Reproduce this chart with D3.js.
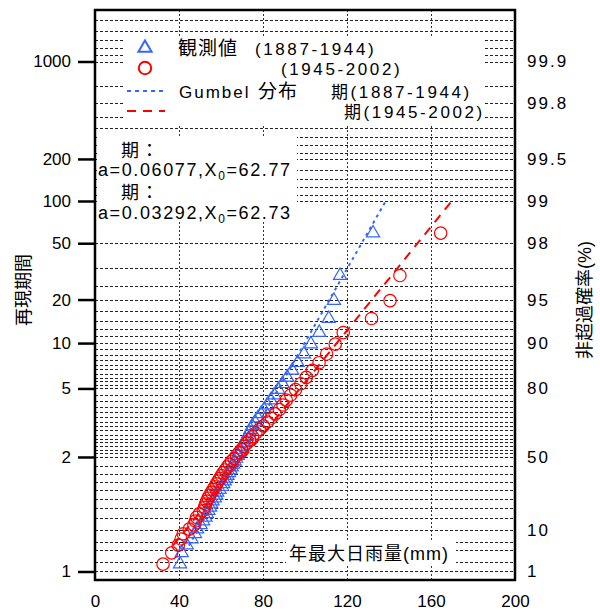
<!DOCTYPE html>
<html>
<head>
<meta charset="utf-8">
<script src="https://cdn.jsdelivr.net/npm/d3@7"></script>
<style>
  body { margin: 0; background: #fff; }
  text { font-family: "Liberation Sans", Arial, "Noto Sans CJK JP", sans-serif; }
</style>
</head>
<body>
<div id="main"><svg width="600" height="612"></svg></div>
<script>
// Annual max daily rainfall (mm), sorted ascending
var earlyRain = [40.5, 41.3, 43.7, 46.0, 47.6, 48.6, 50.3, 51.5, 52.6, 53.3,
  54.0, 54.8, 55.4, 56.0, 57.1, 57.7, 58.2, 59.3, 60.5, 61.1,
  61.8, 62.5, 63.1, 63.8, 64.5, 65.1, 65.8, 66.5, 67.2, 67.9,
  68.6, 69.3, 70.0, 70.8, 71.6, 72.4, 73.2, 74.0, 74.9, 76.2,
  77.6, 79.0, 80.5, 82.0, 83.7, 85.4, 87.3, 89.3, 91.5, 93.9,
  96.5, 99.5, 102.8, 106.8, 111.3, 113.8, 116.7, 132.4];
var lateRain = [32.4, 36.5, 39.7, 41.0, 42.0, 44.9, 47.1, 47.8, 48.4, 49.7,
  51.6, 52.2, 52.6, 53.2, 53.8, 54.6, 55.4, 56.2, 57.0, 57.8,
  58.6, 59.4, 60.2, 61.0, 62.0, 63.0, 64.0, 65.0, 66.2, 67.4,
  68.6, 69.8, 71.0, 72.3, 73.6, 75.0, 76.6, 78.2, 80.2, 82.1,
  84.0, 85.8, 87.8, 89.5, 91.1, 93.2, 95.5, 98.0, 100.6, 103.5,
  106.7, 110.3, 114.4, 118.2, 131.7, 140.5, 145.2, 164.6];

// Gumbel fits (as drawn)
var fitA = [0.06077, 0.04292];
var fitX0 = [62.77, 62.73];
var fitRange = [0.05, 0.99];
var fitLabels = ["a=0.06077,X", "a=0.03292,X"];
var fitX0Labels = ["=62.77", "=62.73"];

// axis ticks
var xTicks = [0, 40, 80, 120, 160, 200];
var leftTickProbs = [0.01, 0.5, 0.8, 0.9, 0.95, 0.98, 0.99, 0.995, 0.999];
var leftTickLabels = ["1", "2", "5", "10", "20", "50", "100", "200", "1000"];
var rightTickProbs = [0.01, 0.1, 0.5, 0.8, 0.9, 0.95, 0.98, 0.99, 0.995, 0.998, 0.999];
var rightTickLabels = ["1", "10", "50", "80", "90", "95", "98", "99", "99.5", "99.8", "99.9"];
var gridProbs = [0.01, 0.02, 0.04, 0.06, 0.1, 0.15, 0.2, 0.25, 0.3, 0.35, 0.4, 0.45, 0.5,
  0.52, 0.54, 0.56, 0.58, 0.6, 0.62, 0.64, 0.66, 0.68, 0.7, 0.72, 0.74, 0.76, 0.78, 0.8,
  0.81, 0.82, 0.83, 0.84, 0.85, 0.86, 0.87, 0.88, 0.89, 0.9, 0.91, 0.92, 0.93, 0.94, 0.95,
  0.96, 0.97, 0.98, 0.99, 0.991, 0.992, 0.993, 0.994, 0.995, 0.9955, 0.996, 0.9965, 0.997,
  0.9975, 0.998, 0.9985, 0.999, 0.9991, 0.9992, 0.9993, 0.9994, 0.9995];
var xGrid = [40, 80, 120, 160];

var svg = d3.select("#main").select("svg");
var margin = {left: 95, right: 515, top: 10, bottom: 580};

var gumbel = function(p) { return -Math.log(-Math.log(p)); };

var x = d3.scaleLinear().domain([0, 200]).range([margin.left, margin.right]);
var y = d3.scaleLinear().domain([-1.668, 7.759]).range([margin.bottom, margin.top]);
var yp = function(p) { return y(gumbel(p)); };

// plotting position i/(n+1)
var pos = function(arr) {
  return arr.map(function(v, i) { return {v: v, p: (i + 1) / (arr.length + 1)}; });
};

// grid
svg.append("g").selectAll("line").data(gridProbs).enter().append("line")
  .attr("x1", margin.left).attr("x2", margin.right)
  .attr("y1", function(d) { return Math.round(yp(d)) + 0.5; })
  .attr("y2", function(d) { return Math.round(yp(d)) + 0.5; })
  .attr("stroke", "#222").attr("stroke-width", 1).attr("stroke-dasharray", "3,2");
svg.append("g").selectAll("line").data(xGrid).enter().append("line")
  .attr("x1", function(d) { return Math.round(x(d)) + 0.5; })
  .attr("x2", function(d) { return Math.round(x(d)) + 0.5; })
  .attr("y1", margin.top).attr("y2", margin.bottom)
  .attr("stroke", "#333").attr("stroke-width", 1).attr("stroke-dasharray", "2,2");

// fitted lines
var colors = ["#3366ff", "#ff0000"];
var dashes = ["3,4", "9,7"];
[0, 1].forEach(function(k) {
  svg.append("line")
    .attr("x1", x(fitX0[k] + gumbel(fitRange[0]) / fitA[k])).attr("y1", yp(fitRange[0]))
    .attr("x2", x(fitX0[k] + gumbel(fitRange[1]) / fitA[k])).attr("y2", yp(fitRange[1]))
    .attr("stroke", colors[k]).attr("stroke-width", 2)
    .attr("stroke-dasharray", dashes[k]);
});

// points
svg.append("g").selectAll("path").data(pos(earlyRain)).enter().append("path")
  .attr("d", d3.symbol(d3.symbolTriangle, 75))
  .attr("transform", function(d) { return "translate(" + x(d.v) + "," + yp(d.p) + ")"; })
  .attr("fill", "none").attr("stroke", colors[0]).attr("stroke-width", 1.2);
svg.append("g").selectAll("circle").data(pos(lateRain)).enter().append("circle")
  .attr("cx", function(d) { return x(d.v); }).attr("cy", function(d) { return yp(d.p); })
  .attr("r", 6.2)
  .attr("fill", "none").attr("stroke", colors[1]).attr("stroke-width", 1.2);

// legend box
svg.append("rect").attr("x", 125).attr("y", 37).attr("width", 360).attr("height", 89).attr("fill", "#fff");
var lg = svg.append("g").attr("font-size", 17).attr("letter-spacing", "2.6px");
lg.append("path").attr("d", d3.symbol(d3.symbolTriangle, 75))
  .attr("transform", "translate(145,48)")
  .attr("fill", "none").attr("stroke", colors[0]).attr("stroke-width", 2);
lg.append("circle").attr("cx", 145).attr("cy", 68).attr("r", 6.2)
  .attr("fill", "none").attr("stroke", colors[1]).attr("stroke-width", 2);
lg.append("line").attr("x1", 127).attr("x2", 165).attr("y1", 91).attr("y2", 91)
  .attr("stroke", colors[0]).attr("stroke-width", 2).attr("stroke-dasharray", "4,4");
lg.append("line").attr("x1", 127).attr("x2", 165).attr("y1", 111).attr("y2", 111)
  .attr("stroke", colors[1]).attr("stroke-width", 2).attr("stroke-dasharray", "9,7");
lg.append("text").attr("x", 178).attr("y", 55).attr("font-size", 19).attr("letter-spacing", "1px").text("観測値");
lg.append("text").attr("x", 255).attr("y", 55).text("(1887-1944)");
lg.append("text").attr("x", 281).attr("y", 75).text("(1945-2002)");
lg.append("text").attr("x", 179).attr("y", 98).attr("letter-spacing", "2px").text("Gumbel");
lg.append("text").attr("x", 258).attr("y", 98).attr("font-size", 19).attr("letter-spacing", "1px").text("分布");
lg.append("text").attr("x", 331).attr("y", 98).text("期(1887-1944)");
lg.append("text").attr("x", 344).attr("y", 118).text("期(1945-2002)");

// fit parameter box
svg.append("rect").attr("x", 97).attr("y", 136).attr("width", 200).attr("height", 84).attr("fill", "#fff");
var pg = svg.append("g").attr("font-size", 18).attr("letter-spacing", "1.6px");
[0, 1].forEach(function(k) {
  pg.append("text").attr("x", 121).attr("y", 157 + k * 42).text("期：");
  var t = pg.append("text").attr("x", 98).attr("y", 176 + k * 43);
  t.append("tspan").text(fitLabels[k]);
  t.append("tspan").attr("font-size", 12).attr("dy", 4).text("0");
  t.append("tspan").attr("dy", -4).text(fitX0Labels[k]);
});

// x title inside plot
svg.append("rect").attr("x", 286).attr("y", 541).attr("width", 170).attr("height", 24).attr("fill", "#fff");
svg.append("text").attr("x", 289).attr("y", 560).attr("font-size", 18).attr("letter-spacing", "1px")
  .text("年最大日雨量(mm)");

// frame
svg.append("rect").attr("x", margin.left).attr("y", margin.top)
  .attr("width", margin.right - margin.left).attr("height", margin.bottom - margin.top)
  .attr("fill", "none").attr("stroke", "#000").attr("stroke-width", 2.5);

// axes
var xAxis = d3.axisBottom(x).tickValues(xTicks).tickSize(0).tickPadding(15);
var gx = svg.append("g").attr("transform", "translate(0," + margin.bottom + ")").call(xAxis);
gx.select(".domain").remove();
gx.selectAll("text").attr("font-size", 17).attr("fill", "#000");

var yAxisL = d3.axisLeft(y).tickValues(leftTickProbs.map(gumbel))
  .tickFormat(function(d, i) { return leftTickLabels[i]; }).tickSize(17).tickPadding(7);
var gl = svg.append("g").attr("transform", "translate(" + margin.left + ",0)").call(yAxisL);
gl.select(".domain").remove();
gl.selectAll("line").attr("stroke", "#000").attr("stroke-width", 2.5);
gl.selectAll("text").attr("font-size", 17).attr("fill", "#000");

var yAxisR = d3.axisRight(y).tickValues(rightTickProbs.map(gumbel))
  .tickFormat(function(d, i) { return rightTickLabels[i]; }).tickSize(0).tickPadding(12);
var gr = svg.append("g").attr("transform", "translate(" + margin.right + ",0)").call(yAxisR);
gr.select(".domain").remove();
gr.selectAll("text").attr("font-size", 17).attr("fill", "#000").attr("letter-spacing", "2px");

// axis titles
svg.append("text").attr("transform", "translate(30,290) rotate(-90)")
  .attr("text-anchor", "middle").attr("font-size", 18).text("再現期間");
svg.append("text").attr("transform", "translate(591,300) rotate(-90)")
  .attr("text-anchor", "middle").attr("font-size", 18).text("非超過確率(%)");
</script>
</body>
</html>
